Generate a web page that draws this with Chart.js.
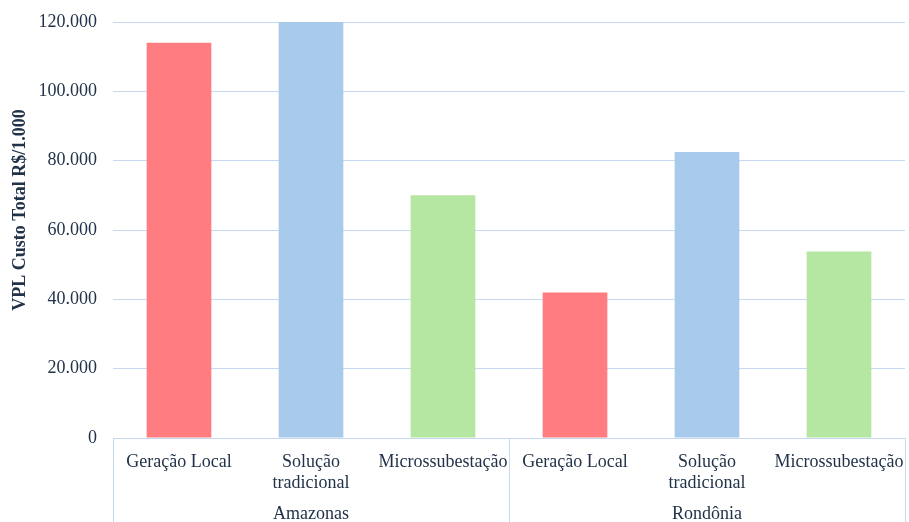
<!DOCTYPE html>
<html><head><meta charset="utf-8">
<script src="https://cdn.jsdelivr.net/npm/chart.js@4/dist/chart.umd.min.js"></script>
<style>html,body{margin:0;padding:0;background:#fff}#wrap{width:909px;height:522px}</style>
</head><body><div id="wrap"><canvas id="c" width="909" height="522"></canvas></div>
<script>
const categories = [['Geração Local'], ['Solução', 'tradicional'], ['Microssubestação'], ['Geração Local'], ['Solução', 'tradicional'], ['Microssubestação']];
const groups = ['Amazonas', 'Rondônia'];
const groupSizes = [3, 3];
const values = [114000, 120000, 70000, 42000, 82500, 53800];
const barColors = ['#FF7C80', '#A9CBEB', '#B5E6A2', '#FF7C80', '#A9CBEB', '#B5E6A2'];
const yTicks = [0, 20000, 40000, 60000, 80000, 100000, 120000];
const yTitle = 'VPL Custo Total R$/1.000';

const textColor = '#223349';
const lineColor = '#C6D9F0';
const FAM = "'Liberation Serif', 'Times New Roman', Times, serif";

const groupPlugin = {
  id: 'groupPlugin',
  afterDraw(chart) {
    const ctx = chart.ctx, x = chart.scales.x, area = chart.chartArea;
    const bottom = chart.height;
    ctx.save();
    ctx.strokeStyle = lineColor; ctx.lineWidth = 1;
    let start = 0;
    const edges = [];
    const half = (x.getPixelForValue(1) - x.getPixelForValue(0)) / 2;
    edges.push(x.getPixelForValue(0) - half);
    groupSizes.forEach(n => { start += n; edges.push(x.getPixelForValue(start - 1) + half); });
    edges.forEach(px => {
      const xx = Math.round(px) + 0.5;
      ctx.beginPath(); ctx.moveTo(xx, area.bottom); ctx.lineTo(xx, bottom); ctx.stroke();
    });
    ctx.fillStyle = textColor;
    ctx.font = '18px ' + FAM;
    ctx.textAlign = 'center'; ctx.textBaseline = 'middle';
    groups.forEach((g, i) => {
      ctx.fillText(g, (edges[i] + edges[i + 1]) / 2, 514);
    });
    // y axis title
    ctx.save();
    ctx.translate(20, 210);
    ctx.rotate(-Math.PI / 2);
    ctx.font = 'bold 18px ' + FAM;
    ctx.fillText(yTitle, 0, 0);
    ctx.restore();
    ctx.restore();
  }
};

function draw() {
new Chart(document.getElementById('c'), {
  type: 'bar',
  data: {
    labels: categories,
    datasets: [{ data: values, backgroundColor: barColors, borderWidth: 0, categoryPercentage: 1, barPercentage: 0.49 }]
  },
  options: {
    responsive: false, animation: false,
    layout: { padding: { top: 22, right: 4, bottom: 0, left: 0 } },
    plugins: { legend: { display: false }, tooltip: { enabled: false } },
    scales: {
      x: {
        grid: { display: false, drawTicks: false },
        border: { display: true, color: lineColor },
        ticks: { color: textColor, font: { family: FAM, size: 18, lineHeight: 1.15 }, padding: 14, maxRotation: 0, minRotation: 0, autoSkip: false },
        afterFit(s) { s.height = 84; s.paddingLeft = 0; s.paddingRight = 0; }
      },
      y: {
        min: 0, max: 120000,
        afterBuildTicks(s) { s.ticks = yTicks.map(v => ({ value: v })); },
        grid: { color: lineColor, drawTicks: false },
        border: { display: false },
        ticks: { color: textColor, padding: 16, font: { family: FAM, size: 18 },
          callback: v => v === 0 ? '0' : v.toLocaleString('de-DE') },
        title: { display: false },
        afterFit(s) { s.width = 113; s.paddingTop = 0; s.paddingBottom = 0; }
      }
    }
  },
  plugins: [groupPlugin]
});
}
Promise.all([document.fonts.load("18px 'Liberation Serif'"), document.fonts.load("bold 18px 'Liberation Serif'")]).then(draw, draw);
</script></body></html>
